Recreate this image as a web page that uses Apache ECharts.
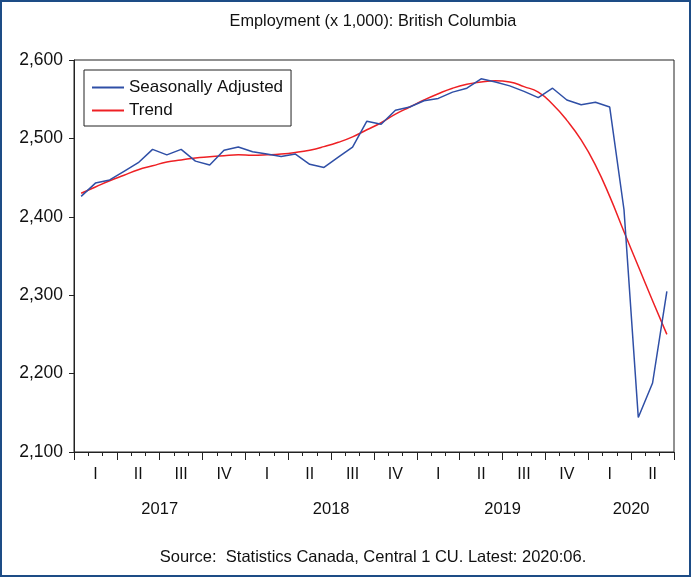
<!DOCTYPE html>
<html>
<head>
<meta charset="utf-8">
<script src="https://cdn.jsdelivr.net/npm/echarts@6/dist/echarts.min.js"></script>
<style>
html,body{margin:0;padding:0;background:#fff;}
#chart{width:691px;height:577px;}
</style>
</head>
<body>
<div id="chart"></div>
<script>
// ---- data ----
const years = ['2017', '2018', '2019', '2020'];
const monthsPerYear = [12, 12, 12, 6];
const quarterLabels = ['I', 'II', 'III', 'IV'];
const seasonallyAdjusted = [
  2426, 2443, 2447, 2458, 2469, 2486, 2479, 2486, 2471, 2466, 2485, 2489,
  2483, 2480, 2477, 2480, 2467, 2463, 2476, 2489, 2522, 2518, 2536, 2540,
  2548, 2551, 2559, 2564, 2576, 2572, 2567, 2560, 2552, 2564, 2549, 2543,
  2546, 2540, 2409, 2144, 2188, 2305
];
const trend = [
  2430, 2438, 2446, 2453, 2460, 2465, 2470, 2472.5, 2475, 2476.5, 2478, 2479,
  2478.5, 2479, 2480, 2482, 2485, 2489.5, 2495, 2502, 2511, 2520, 2531, 2540,
  2549, 2557, 2564, 2569, 2572, 2573.5, 2572, 2566, 2559, 2543.5, 2523, 2498,
  2466, 2426, 2381, 2337, 2293, 2250
];
const yTicks = [2100, 2200, 2300, 2400, 2500, 2600];

// ---- derived categories ----
const months = [];
const quarters = [];
const yearCenters = {};
let cum = 0;
years.forEach((y, i) => {
  const n = monthsPerYear[i];
  for (let m = 1; m <= n; m++) months.push(y + '-' + String(m).padStart(2, '0'));
  for (let q = 0; q < n / 3; q++) quarters.push(quarterLabels[q]);
  yearCenters[cum + n / 2] = y;
  cum += n;
});
const totalMonths = months.length;

const fontFam = "'Liberation Sans', Arial, sans-serif";
const fmt = v => String(v).replace(/\B(?=(\d{3})+(?!\d))/g, ',');
const lineIcon = 'rect';

const chart = echarts.init(document.getElementById('chart'), null, {renderer: 'canvas'});
chart.setOption({
  animation: false,
  backgroundColor: '#fff',
  textStyle: {fontFamily: fontFam},
  graphic: [{
    type: 'rect', z: 100, silent: true,
    shape: {x: 1, y: 1, width: 689, height: 575},
    style: {fill: 'none', stroke: '#1d4c86', lineWidth: 2}
  }],
  title: [{
    text: 'Employment (x 1,000): British Columbia',
    left: 368, textAlign: 'center', top: 9,
    textStyle: {fontSize: 16.3, fontWeight: 'normal', color: '#111', fontFamily: fontFam}
  }, {
    text: 'Source:  Statistics Canada, Central 1 CU. Latest: 2020:06.',
    left: 368, textAlign: 'center', top: 544,
    textStyle: {fontSize: 16.5, fontWeight: 'normal', color: '#111', fontFamily: fontFam}
  }],
  legend: {
    orient: 'vertical',
    left: 84, top: 70,
    padding: [9, 8, 7, 8],
    itemGap: 6,
    itemWidth: 32,
    itemHeight: 2,
    icon: lineIcon,
    borderColor: '#222',
    borderWidth: 1,
    textStyle: {fontSize: 17, color: '#111', fontFamily: fontFam},
    data: ['Seasonally Adjusted', 'Trend']
  },
  grid: {
    left: 74, right: 17, top: 60, bottom: 125,
    show: true, borderColor: '#222', borderWidth: 1, backgroundColor: '#fff'
  },
  xAxis: [{
    type: 'category', data: months, boundaryGap: true,
    axisLine: {show: true, lineStyle: {color: '#222', width: 1}},
    axisTick: {show: true, interval: 0, length: 4, lineStyle: {color: '#222', width: 1}},
    axisLabel: {show: false},
    splitLine: {show: false}
  }, {
    type: 'category', data: quarters, boundaryGap: true, position: 'bottom',
    axisLine: {show: true, lineStyle: {color: '#222', width: 1}},
    axisTick: {show: true, interval: 0, length: 8, lineStyle: {color: '#222', width: 1}},
    axisLabel: {interval: 0, margin: 15, fontSize: 16, color: '#111', fontFamily: fontFam},
    splitLine: {show: false}
  }, {
    type: 'value', min: 0, max: totalMonths, interval: 3, position: 'bottom',
    axisLine: {show: false}, axisTick: {show: false}, splitLine: {show: false},
    axisLabel: {
      margin: 49, fontSize: 16.5, color: '#111', fontFamily: fontFam,
      showMinLabel: true, showMaxLabel: true,
      formatter: v => yearCenters[v] || ''
    }
  }],
  yAxis: {
    type: 'value', min: yTicks[0], max: yTicks[yTicks.length - 1], interval: 100,
    axisLine: {show: true, lineStyle: {color: '#222', width: 1}},
    axisTick: {show: true, length: 5, lineStyle: {color: '#222'}},
    axisLabel: {margin: 11, fontSize: 17.5, color: '#111', fontFamily: fontFam, formatter: fmt},
    splitLine: {show: false}
  },
  series: [{
    name: 'Seasonally Adjusted', type: 'line', xAxisIndex: 0,
    data: seasonallyAdjusted, symbol: 'none', smooth: false,
    lineStyle: {color: '#2f4fa6', width: 1.5}, itemStyle: {color: '#2f4fa6'}, z: 3
  }, {
    name: 'Trend', type: 'line', xAxisIndex: 0,
    data: trend, symbol: 'none', smooth: true,
    lineStyle: {color: '#ee2024', width: 1.5}, itemStyle: {color: '#ee2024'}, z: 2
  }]
});
</script>
</body>
</html>
